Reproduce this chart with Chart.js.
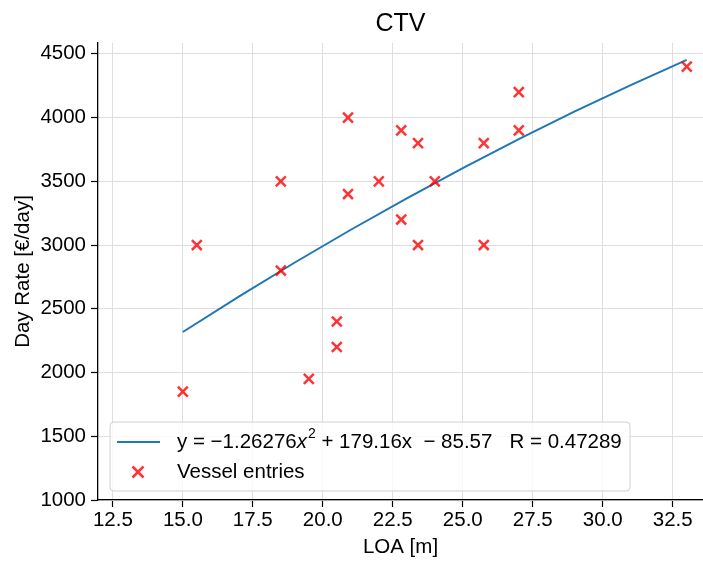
<!DOCTYPE html>
<html>
<head>
<meta charset="utf-8">
<script src="https://cdn.jsdelivr.net/npm/chart.js@4"></script>
<style>
  html, body { margin: 0; padding: 0; background: #fff; }
  canvas { display: block; }
</style>
</head>
<body>
<canvas id="ctvChart" width="703" height="561"></canvas>
<script>
// Vessel entries (LOA [m] vs day rate [€/day])
const loa = [15.0, 15.5, 18.5, 18.5, 19.5, 20.5, 20.5, 20.9, 20.9, 22.0, 22.8, 22.8, 23.4, 23.4, 24.0, 25.75, 25.75, 27.0, 27.0, 33.0];
const dayRate = [1850, 3000, 3500, 2800, 1950, 2400, 2200, 4000, 3400, 3500, 3900, 3200, 3800, 3000, 3500, 3800, 3000, 4200, 3900, 4400];

// fitted curve
const fitX = [15, 17, 19, 21, 23, 25, 27, 29, 31, 33];
const fitY = [2318, 2595, 2863, 3120, 3367, 3604, 3831, 4048, 4255, 4452];

const xTicks = [12.5, 15.0, 17.5, 20.0, 22.5, 25.0, 27.5, 30.0, 32.5];
const yTicks = [1000, 1500, 2000, 2500, 3000, 3500, 4000, 4500];

const fitLabel = ['y = \u22121.26276', 'x', '2', ' + 179.16x  \u2212 85.57   R = 0.47289'];
const scatterLabel = 'Vessel entries';

const FONT = "'Liberation Sans', Arial, sans-serif";
const FS = 20.5;
const LINE_COLOR = '#1f77b4';
const CROSS_COLOR = 'rgba(255, 0, 0, 0.8)';

Chart.defaults.font.family = FONT;
Chart.defaults.color = '#000';

// legend drawn inside the plot, lower left, like matplotlib
const insideLegend = {
    id: 'insideLegend',
    afterDatasetsDraw(chart) {
        const ctx = chart.ctx;
        const area = chart.chartArea;
        const x0 = area.left + 12, y0 = area.top + 379, w = 520, h = 69;
        ctx.save();
        ctx.beginPath();
        ctx.roundRect(x0, y0, w, h, 4);
        ctx.fillStyle = 'rgba(255,255,255,0.8)';
        ctx.fill();
        ctx.strokeStyle = '#d0d0d0';
        ctx.lineWidth = 1;
        ctx.stroke();

        // row 1: fit line
        const r1 = y0 + 20, r2 = y0 + 50;
        ctx.strokeStyle = LINE_COLOR;
        ctx.lineWidth = 2;
        ctx.beginPath();
        ctx.moveTo(x0 + 7, r1);
        ctx.lineTo(x0 + 50, r1);
        ctx.stroke();

        ctx.fillStyle = '#000';
        ctx.textBaseline = 'middle';
        let tx = x0 + 67;
        ctx.font = FS + 'px ' + FONT;
        ctx.fillText(fitLabel[0], tx, r1);
        tx += ctx.measureText(fitLabel[0]).width;
        ctx.font = 'italic ' + FS + 'px ' + FONT;
        ctx.fillText(fitLabel[1], tx, r1);
        tx += ctx.measureText(fitLabel[1]).width + 1;
        ctx.font = '14px ' + FONT;
        ctx.fillText(fitLabel[2], tx, r1 - 8);
        tx += ctx.measureText(fitLabel[2]).width;
        ctx.font = FS + 'px ' + FONT;
        ctx.fillText(fitLabel[3], tx, r1);

        // row 2: scatter marker
        const mx = x0 + 28, d = 5.5;
        ctx.strokeStyle = CROSS_COLOR;
        ctx.lineWidth = 2.5;
        ctx.beginPath();
        ctx.moveTo(mx - d, r2 - d); ctx.lineTo(mx + d, r2 + d);
        ctx.moveTo(mx - d, r2 + d); ctx.lineTo(mx + d, r2 - d);
        ctx.stroke();
        ctx.font = FS + 'px ' + FONT;
        ctx.fillText(scatterLabel, x0 + 67, r2);
        ctx.restore();
    }
};

new Chart(document.getElementById('ctvChart'), {
    type: 'scatter',
    data: {
        datasets: [{
            label: 'fit',
            data: fitX.map((x, i) => ({ x: x, y: fitY[i] })),
            showLine: true,
            borderColor: LINE_COLOR,
            borderWidth: 2,
            pointRadius: 0,
            fill: false,
            order: 1
        }, {
            label: scatterLabel,
            data: loa.map((x, i) => ({ x: x, y: dayRate[i] })),
            pointStyle: 'crossRot',
            pointRadius: 7,
            pointBorderColor: CROSS_COLOR,
            pointBorderWidth: 2.5,
            order: 0
        }]
    },
    options: {
        responsive: false,
        animation: false,
        layout: { autoPadding: false, padding: 0 },
        plugins: {
            legend: { display: false },
            tooltip: { enabled: false },
            title: {
                display: true,
                fullSize: false,
                text: 'CTV',
                font: { size: 25, weight: 'normal' },
                color: '#000',
                padding: { top: 9, bottom: 4 }
            }
        },
        scales: {
            x: {
                type: 'linear',
                min: 11.97,
                max: 33.58,
                afterBuildTicks: axis => { axis.ticks = xTicks.map(v => ({ value: v })); },
                afterFit: axis => {
                    axis.height = 61;
                    axis.paddingLeft = 0;
                    axis.paddingRight = 0;
                },
                ticks: {
                    font: { size: FS },
                    padding: 1,
                    maxRotation: 0,
                    autoSkip: false,
                    callback: v => v.toFixed(1)
                },
                grid: { color: '#dedede', lineWidth: 1, tickLength: 7, tickColor: '#000', tickWidth: 1.2 },
                border: { color: '#000', width: 1.3 },
                title: { display: true, text: 'LOA [m]', font: { size: FS }, padding: { top: 0, bottom: 1 } }
            },
            y: {
                min: 1000,
                max: 4585,
                afterBuildTicks: axis => { axis.ticks = yTicks.map(v => ({ value: v })); },
                afterFit: axis => {
                    axis.width = 98;
                    axis.paddingTop = 0;
                    axis.paddingBottom = 0;
                },
                ticks: { font: { size: FS }, padding: 5, autoSkip: false, callback: v => String(v) },
                grid: { color: '#dedede', lineWidth: 1, tickLength: 7, tickColor: '#000', tickWidth: 1.2 },
                border: { color: '#000', width: 1.3 },
                title: { display: true, text: 'Day Rate [\u20ac/day]', font: { size: FS }, padding: { top: 11, bottom: 0 } }
            }
        }
    },
    plugins: [insideLegend]
});
</script>
</body>
</html>
